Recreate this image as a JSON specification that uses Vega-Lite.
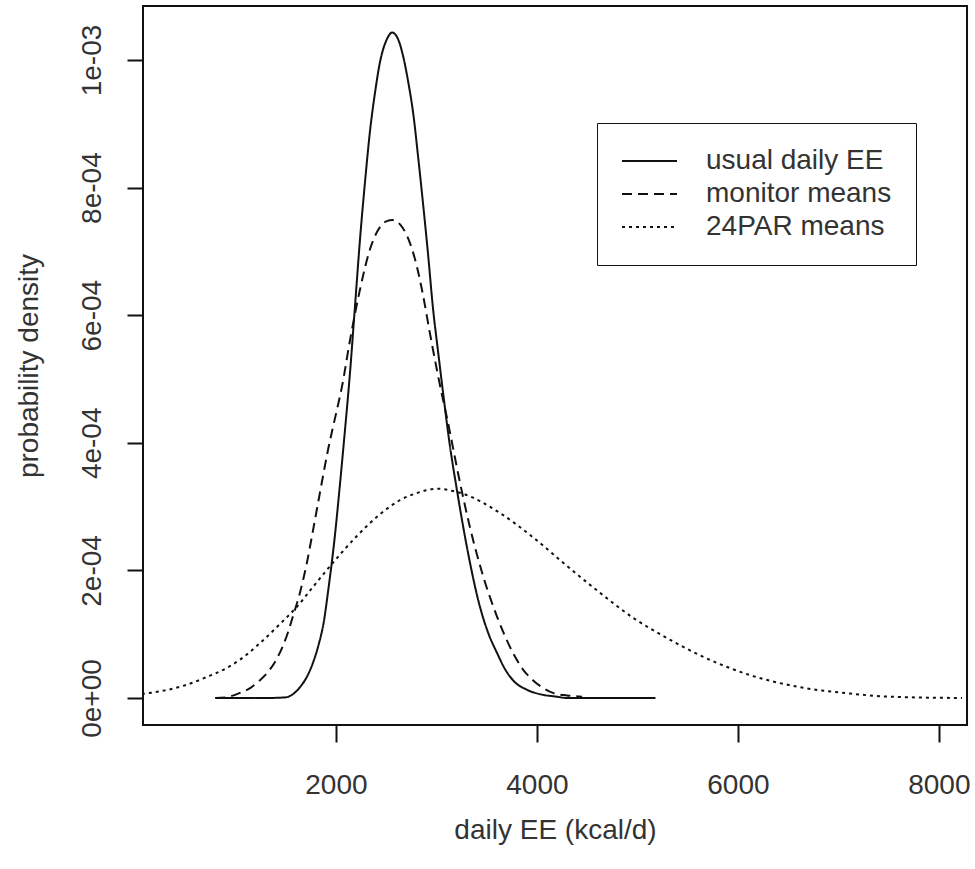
{
  "$schema": "https://vega.github.io/schema/vega-lite/v6.json",
  "width": 824,
  "height": 719,
  "autosize": {"type": "none"},
  "padding": {"left": 143, "top": 6, "right": 8, "bottom": 144},
  "background": "white",
  "config": {"view": {"stroke": "#111", "strokeWidth": 2}, "font": "Liberation Sans"},
  "data": {"values": [
    {"series": "usual daily EE", "x": 800, "y": 0},
    {"series": "usual daily EE", "x": 1000, "y": 0},
    {"series": "usual daily EE", "x": 1300, "y": 0},
    {"series": "usual daily EE", "x": 1500, "y": 0.000001},
    {"series": "usual daily EE", "x": 1580, "y": 0.000007},
    {"series": "usual daily EE", "x": 1642, "y": 0.000017},
    {"series": "usual daily EE", "x": 1710, "y": 0.000033},
    {"series": "usual daily EE", "x": 1771, "y": 0.000055},
    {"series": "usual daily EE", "x": 1830, "y": 0.000085},
    {"series": "usual daily EE", "x": 1880, "y": 0.00012},
    {"series": "usual daily EE", "x": 1920, "y": 0.000165},
    {"series": "usual daily EE", "x": 1990, "y": 0.000255},
    {"series": "usual daily EE", "x": 2040, "y": 0.000335},
    {"series": "usual daily EE", "x": 2090, "y": 0.00042},
    {"series": "usual daily EE", "x": 2140, "y": 0.00051},
    {"series": "usual daily EE", "x": 2190, "y": 0.000615},
    {"series": "usual daily EE", "x": 2240, "y": 0.00072},
    {"series": "usual daily EE", "x": 2290, "y": 0.00081},
    {"series": "usual daily EE", "x": 2340, "y": 0.00089},
    {"series": "usual daily EE", "x": 2390, "y": 0.00095},
    {"series": "usual daily EE", "x": 2440, "y": 0.000998},
    {"series": "usual daily EE", "x": 2500, "y": 0.00103},
    {"series": "usual daily EE", "x": 2560, "y": 0.001043},
    {"series": "usual daily EE", "x": 2620, "y": 0.001032},
    {"series": "usual daily EE", "x": 2670, "y": 0.001005},
    {"series": "usual daily EE", "x": 2720, "y": 0.000965},
    {"series": "usual daily EE", "x": 2770, "y": 0.000915},
    {"series": "usual daily EE", "x": 2820, "y": 0.000845},
    {"series": "usual daily EE", "x": 2870, "y": 0.00077},
    {"series": "usual daily EE", "x": 2920, "y": 0.00069},
    {"series": "usual daily EE", "x": 2965, "y": 0.000612},
    {"series": "usual daily EE", "x": 3015, "y": 0.000545},
    {"series": "usual daily EE", "x": 3065, "y": 0.00048},
    {"series": "usual daily EE", "x": 3130, "y": 0.0004},
    {"series": "usual daily EE", "x": 3204, "y": 0.000326},
    {"series": "usual daily EE", "x": 3303, "y": 0.000237},
    {"series": "usual daily EE", "x": 3433, "y": 0.000143},
    {"series": "usual daily EE", "x": 3520, "y": 0.0001},
    {"series": "usual daily EE", "x": 3602, "y": 0.000071},
    {"series": "usual daily EE", "x": 3680, "y": 0.000046},
    {"series": "usual daily EE", "x": 3761, "y": 0.000028},
    {"series": "usual daily EE", "x": 3900, "y": 0.000013},
    {"series": "usual daily EE", "x": 4030, "y": 0.000006},
    {"series": "usual daily EE", "x": 4200, "y": 0.000002},
    {"series": "usual daily EE", "x": 4300, "y": 0},
    {"series": "usual daily EE", "x": 5180, "y": 0},

    {"series": "monitor means", "x": 800, "y": 0},
    {"series": "monitor means", "x": 900, "y": 0.000001},
    {"series": "monitor means", "x": 1045, "y": 0.000008},
    {"series": "monitor means", "x": 1150, "y": 0.000016},
    {"series": "monitor means", "x": 1244, "y": 0.000028},
    {"series": "monitor means", "x": 1330, "y": 0.000042},
    {"series": "monitor means", "x": 1413, "y": 0.000062},
    {"series": "monitor means", "x": 1512, "y": 0.000098},
    {"series": "monitor means", "x": 1572, "y": 0.000128},
    {"series": "monitor means", "x": 1642, "y": 0.000165},
    {"series": "monitor means", "x": 1711, "y": 0.000212},
    {"series": "monitor means", "x": 1771, "y": 0.000262},
    {"series": "monitor means", "x": 1841, "y": 0.000322},
    {"series": "monitor means", "x": 1920, "y": 0.000388},
    {"series": "monitor means", "x": 2010, "y": 0.000452},
    {"series": "monitor means", "x": 2060, "y": 0.000488},
    {"series": "monitor means", "x": 2139, "y": 0.00056},
    {"series": "monitor means", "x": 2239, "y": 0.00064},
    {"series": "monitor means", "x": 2338, "y": 0.000703},
    {"series": "monitor means", "x": 2438, "y": 0.000738},
    {"series": "monitor means", "x": 2500, "y": 0.000747},
    {"series": "monitor means", "x": 2567, "y": 0.000749},
    {"series": "monitor means", "x": 2640, "y": 0.000742},
    {"series": "monitor means", "x": 2706, "y": 0.000725},
    {"series": "monitor means", "x": 2806, "y": 0.000676},
    {"series": "monitor means", "x": 2866, "y": 0.000632},
    {"series": "monitor means", "x": 2935, "y": 0.000572},
    {"series": "monitor means", "x": 3005, "y": 0.000514},
    {"series": "monitor means", "x": 3065, "y": 0.000468},
    {"series": "monitor means", "x": 3104, "y": 0.00044},
    {"series": "monitor means", "x": 3234, "y": 0.000338},
    {"series": "monitor means", "x": 3333, "y": 0.000268},
    {"series": "monitor means", "x": 3463, "y": 0.000192},
    {"series": "monitor means", "x": 3602, "y": 0.000128},
    {"series": "monitor means", "x": 3761, "y": 0.000071},
    {"series": "monitor means", "x": 3860, "y": 0.000045},
    {"series": "monitor means", "x": 3960, "y": 0.000028},
    {"series": "monitor means", "x": 4060, "y": 0.000016},
    {"series": "monitor means", "x": 4159, "y": 0.000008},
    {"series": "monitor means", "x": 4300, "y": 0.000004},
    {"series": "monitor means", "x": 4450, "y": 0.000002},

    {"series": "24PAR means", "x": 0, "y": 0.000005},
    {"series": "24PAR means", "x": 300, "y": 0.000012},
    {"series": "24PAR means", "x": 500, "y": 0.00002},
    {"series": "24PAR means", "x": 716, "y": 0.000033},
    {"series": "24PAR means", "x": 900, "y": 0.000046},
    {"series": "24PAR means", "x": 1045, "y": 0.00006},
    {"series": "24PAR means", "x": 1244, "y": 0.000086},
    {"series": "24PAR means", "x": 1443, "y": 0.000116},
    {"series": "24PAR means", "x": 1612, "y": 0.000143},
    {"series": "24PAR means", "x": 1771, "y": 0.000174},
    {"series": "24PAR means", "x": 1970, "y": 0.000212},
    {"series": "24PAR means", "x": 2209, "y": 0.000254},
    {"series": "24PAR means", "x": 2438, "y": 0.000288},
    {"series": "24PAR means", "x": 2637, "y": 0.00031},
    {"series": "24PAR means", "x": 2800, "y": 0.000321},
    {"series": "24PAR means", "x": 3005, "y": 0.000328},
    {"series": "24PAR means", "x": 3150, "y": 0.000325},
    {"series": "24PAR means", "x": 3303, "y": 0.000318},
    {"series": "24PAR means", "x": 3632, "y": 0.00029},
    {"series": "24PAR means", "x": 3960, "y": 0.000252},
    {"series": "24PAR means", "x": 4299, "y": 0.000207},
    {"series": "24PAR means", "x": 4627, "y": 0.000165},
    {"series": "24PAR means", "x": 4955, "y": 0.000126},
    {"series": "24PAR means", "x": 5294, "y": 0.000094},
    {"series": "24PAR means", "x": 5622, "y": 0.000067},
    {"series": "24PAR means", "x": 6119, "y": 0.000036},
    {"series": "24PAR means", "x": 6617, "y": 0.000017},
    {"series": "24PAR means", "x": 7114, "y": 0.000007},
    {"series": "24PAR means", "x": 7512, "y": 0.000002},
    {"series": "24PAR means", "x": 8230, "y": 0}
  ]},
  "mark": {"type": "line", "interpolate": "monotone", "clip": true, "strokeWidth": 2, "color": "#111"},
  "encoding": {
    "x": {
      "field": "x", "type": "quantitative",
      "scale": {"domain": [80, 8280], "nice": false, "zero": false},
      "axis": {
        "values": [2000, 4000, 6000, 8000], "format": "d",
        "title": "daily EE (kcal/d)", "domain": false, "grid": false,
        "tickSize": 17, "tickWidth": 2, "tickColor": "#111",
        "labelFontSize": 28, "labelFont": "Liberation Sans", "labelColor": "#333",
        "labelBaseline": "alphabetic", "labelPadding": 51, "labelFlush": false, "labelOverlap": false,
        "titleFontSize": 28, "titleFont": "Liberation Sans", "titleFontWeight": "normal", "titleColor": "#333",
        "titleX": 412, "titleY": 105, "titleBaseline": "middle", "titleAlign": "center"
      }
    },
    "y": {
      "field": "y", "type": "quantitative",
      "scale": {"domain": [-0.0000423, 0.0010846], "nice": false, "zero": false},
      "axis": {
        "values": [0, 0.0002, 0.0004, 0.0006, 0.0008, 0.001],
        "labelExpr": "datum.value < 0.00001 ? '0e+00' : (datum.value > 0.00095 ? '1e-03' : format(datum.value * 10000, '.0f') + 'e-04')",
        "title": "probability density", "domain": false, "grid": false,
        "tickSize": 16, "tickWidth": 2, "tickColor": "#111",
        "labelFontSize": 28, "labelFont": "Liberation Sans", "labelColor": "#333",
        "labelAngle": 270, "labelAlign": "center", "labelBaseline": "alphabetic", "labelPadding": 27,
        "labelFlush": false, "labelOverlap": false,
        "titleFontSize": 28, "titleFont": "Liberation Sans", "titleFontWeight": "normal", "titleColor": "#333",
        "titleAngle": 270, "titleX": -114, "titleY": 359.5, "titleBaseline": "middle", "titleAlign": "center"
      }
    },
    "strokeDash": {
      "field": "series", "type": "nominal",
      "scale": {"domain": ["usual daily EE", "monitor means", "24PAR means"], "range": [[1, 0], [10, 6], [3, 4]]},
      "legend": {
        "title": null, "orient": "none", "legendX": 454, "legendY": 117,
        "fillColor": "white", "strokeColor": "#111", "padding": 24,
        "symbolType": "stroke", "symbolSize": 3025, "symbolStrokeWidth": 2, "symbolStrokeColor": "#111",
        "clipHeight": 28, "rowPadding": 5,
        "labelFontSize": 28, "labelFont": "Liberation Sans", "labelColor": "#333",
        "labelOffset": 28, "labelLimit": 400
      }
    }
  }
}
